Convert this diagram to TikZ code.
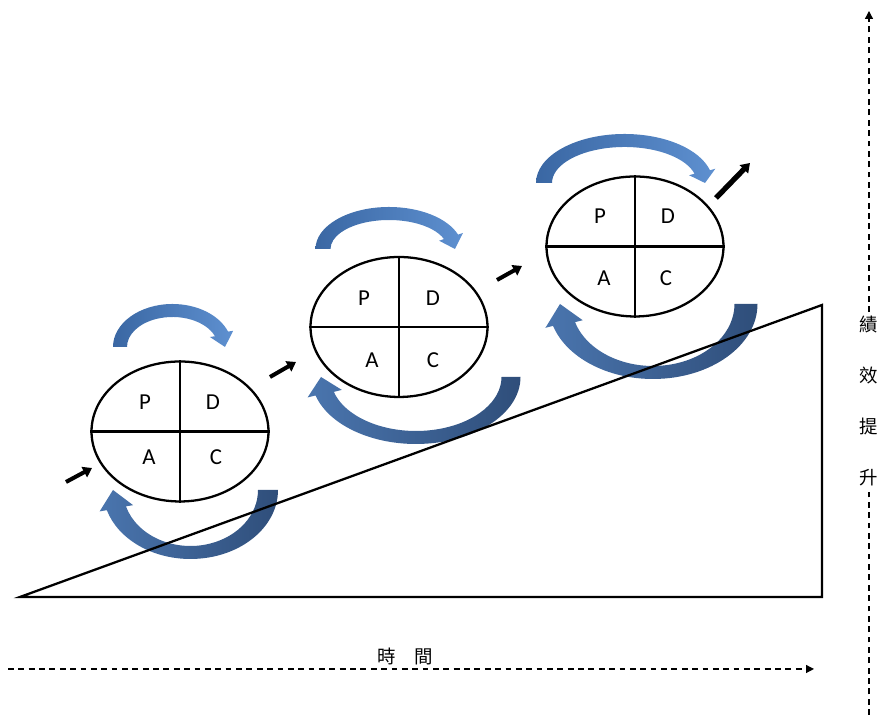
\documentclass[tikz,border=0pt]{standalone}
\usepackage{fontspec}
\newfontfamily\cjk{Noto Sans CJK TC}
\newfontfamily\lettersf{Carlito}
\usepackage{tikz}
\usetikzlibrary{shapes.geometric,calc,arrows.meta}

\definecolor{topdark}{HTML}{3A67A3}
\definecolor{toplight}{HTML}{5E90D0}
\definecolor{botdark}{HTML}{2F4E7A}
\definecolor{botlight}{HTML}{4A75AE}

% block arc with head: [style]{centre}{rx}{ry}{half width x}{half width y}{tail angle}{head angle}{head half width}
\newcommand{\bluearc}[9][]{%
  \pgfmathsetmacro{\ox}{#3+#5}%
  \pgfmathsetmacro{\oy}{#4+#6}%
  \pgfmathsetmacro{\ix}{#3-#5}%
  \pgfmathsetmacro{\iy}{#4-#6}%
  \pgfmathsetmacro{\tipang}{#7-180}%
  \coordinate (arcmid) at ($#2+(#8:#3 and #4)$);
  \coordinate (arctip) at ($#2+(\tipang:#3 and #4)$);
  \shade[#1] ($#2+(#7:{\ox} and {\oy})$)
    arc[start angle=#7, end angle=#8, x radius=\ox, y radius=\oy]
    -- ($(arcmid)!#9!90:(arctip)$) -- (arctip) -- ($(arcmid)!#9!-90:(arctip)$)
    -- ($#2+(#8:{\ix} and {\iy})$)
    arc[start angle=#8, end angle=#7, x radius=\ix, y radius=\iy] -- cycle;
}

\begin{document}
\begin{tikzpicture}[x=0.02cm, y=0.02cm,
  pdca/.style={draw, ellipse, line width=1.3pt, fill=white, minimum width=3.54cm, minimum height=2.8cm, inner sep=0pt},
  divider/.style={line width=1.3pt},
  letter/.style={font=\lettersf\fontsize{13}{15}\selectfont},
  cjklabel/.style={font=\cjk\fontsize{10.5}{29}\selectfont},
  toparc/.style={left color=topdark, right color=toplight},
  botarc/.style={left color=botlight, right color=botdark},
  movearrow/.style={line width=2.3pt, -{Triangle[length=5pt,width=6.5pt]}},
  dasharrow/.style={line width=0.7pt, dash pattern=on 3.3pt off 2.6pt, -{Triangle[length=4.5pt,width=4.5pt]}}]

\useasboundingbox (0,0) rectangle (880,715);

% curved arrows round each wheel
\bluearc[toparc]{(172.5,368)}{52.5}{36.5}{7}{6.5}{180}{21}{0.24cm}
\bluearc[toparc]{(389,466)}{66}{35.5}{7.5}{6.5}{180}{20}{0.25cm}
\bluearc[toparc]{(624.5,532)}{80.5}{42.5}{8}{6.5}{180}{15}{0.27cm}
\bluearc[botarc]{(190.5,225)}{77.5}{62.5}{10}{6.5}{0}{-163}{0.34cm}
\bluearc[botarc]{(416,338)}{95}{60.5}{9.5}{6.5}{0}{-164}{0.35cm}
\bluearc[botarc]{(653,411)}{93}{68.5}{11.5}{6.5}{0}{-163}{0.38cm}

% slope
\coordinate (slopeL) at (20,118);
\coordinate (slopeR) at (822,118);
\coordinate (slopeT) at (822,410);
\draw[line width=1.3pt] (slopeL) -- (slopeR) -- (slopeT) -- cycle;

% first wheel
\node[pdca] (pdca1) at (180,283.5) {};
\draw[divider] (pdca1.north) -- (pdca1.south);
\draw[divider] (pdca1.west) -- (pdca1.east);
\node[letter] (p1) at ([shift={(-35,29)}]pdca1.center) {P};
\node[letter] (d1) at ([shift={(33,29)}]pdca1.center) {D};
\node[letter] (a1) at ([shift={(-31,-26)}]pdca1.center) {A};
\node[letter] (c1) at ([shift={(36,-26)}]pdca1.center) {C};

% second wheel
\node[pdca] (pdca2) at (399,388) {};
\draw[divider] (pdca2.north) -- (pdca2.south);
\draw[divider] (pdca2.west) -- (pdca2.east);
\node[letter] (p2) at ([shift={(-35,29)}]pdca2.center) {P};
\node[letter] (d2) at ([shift={(34,29)}]pdca2.center) {D};
\node[letter] (a2) at ([shift={(-27,-33)}]pdca2.center) {A};
\node[letter] (c2) at ([shift={(34,-33)}]pdca2.center) {C};

% third wheel
\node[pdca] (pdca3) at (635,468.5) {};
\draw[divider] (pdca3.north) -- (pdca3.south);
\draw[divider] (pdca3.west) -- (pdca3.east);
\node[letter] (p3) at ([shift={(-35,30)}]pdca3.center) {P};
\node[letter] (d3) at ([shift={(33,30)}]pdca3.center) {D};
\node[letter] (a3) at ([shift={(-31,-32)}]pdca3.center) {A};
\node[letter] (c3) at ([shift={(31,-32)}]pdca3.center) {C};

% small arrows between the wheels
\coordinate (m1s) at (66,233);  \coordinate (m1e) at (92,247);
\coordinate (m2s) at (270,338); \coordinate (m2e) at (296,353);
\coordinate (m3s) at (497,435); \coordinate (m3e) at (522,449);
\coordinate (m4s) at (716,517); \coordinate (m4e) at (750,552);
\draw[movearrow] (m1s) -- (m1e);
\draw[movearrow] (m2s) -- (m2e);
\draw[movearrow] (m3s) -- (m3e);
\draw[movearrow, line width=3pt] (m4s) -- (m4e);

% axes
\coordinate (hs) at (8,46);
\coordinate (he) at (814,46);
\draw[dasharrow] (hs) -- (he);
\node[cjklabel] (timelabel) at (405,58) {時　間};

\node[cjklabel, align=center, fill=white, inner sep=2pt] (perflabel) at (869,314) {績\\效\\提\\升};
\coordinate (vb) at (869,0);
\coordinate (vt) at (869,704);
\draw[dasharrow, -] (vb) -- (perflabel.south);
\draw[dasharrow] (perflabel.north) -- (vt);

\end{tikzpicture}
\end{document}
